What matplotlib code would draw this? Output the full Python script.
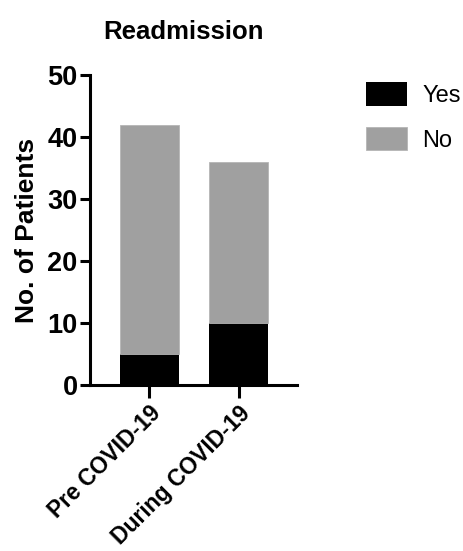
import numpy as np
import matplotlib
matplotlib.use("Agg")
import matplotlib.pyplot as plt

plt.rcParams['font.family'] = ['Liberation Sans', 'DejaVu Sans']

# Data
categories = ["Pre COVID-19", "During COVID-19"]
yes_vals = [5, 10]
no_vals = [37, 26]
yticks = [0, 10, 20, 30, 40, 50]

fig = plt.figure(figsize=(4.64, 5.51), dpi=100)
ax = fig.add_axes([0.194, 0.301, 0.446, 0.563])

x = np.arange(len(categories))
ax.bar(x, yes_vals, width=0.66, color="black", label="Yes")
ax.bar(x, no_vals, width=0.66, bottom=yes_vals, color="#a0a0a0",
       edgecolor="#b5b5b5", linewidth=0.6, label="No")

ax.set_xlim(-0.66, 1.65)
ax.set_ylim(0, 50)
ax.set_yticks(yticks)
ax.set_xticks(x)
ax.set_xticklabels(categories, rotation=45, ha="right", rotation_mode="anchor",
                   fontsize=16.5)
for lab in ax.get_yticklabels():
    lab.set_fontweight("bold")
    lab.set_fontsize(19.5)
for lab in ax.get_xticklabels():
    lab.set_fontweight("bold")

for side in ["top", "right"]:
    ax.spines[side].set_visible(False)
for side in ["left", "bottom"]:
    ax.spines[side].set_linewidth(2.2)
ax.tick_params(axis="y", length=7, width=2.2, pad=2)
ax.tick_params(axis="x", length=9, width=2.2, pad=3)

ax.set_ylabel("No. of Patients", fontsize=19, fontweight="bold", labelpad=6)
ax.set_title("Readmission", fontsize=18.5, fontweight="bold", pad=26, x=0.45)

ax.legend(loc="upper left", bbox_to_anchor=(1.23, 1.045), frameon=False,
          fontsize=17, handlelength=1.75, handleheight=1.15, labelspacing=0.85,
          handletextpad=0.65)

plt.savefig("out.png", dpi=100)
